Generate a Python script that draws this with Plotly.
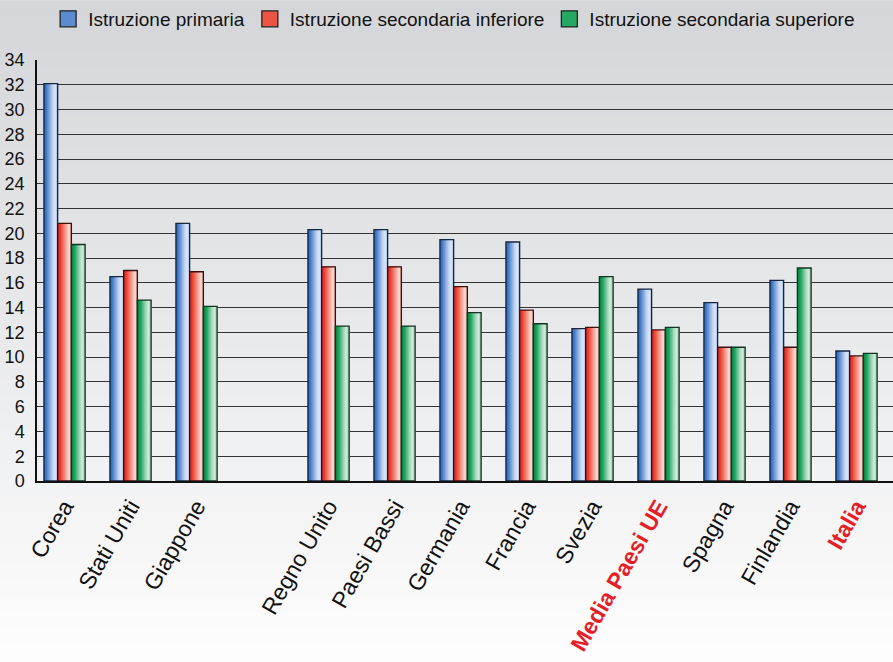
import plotly.graph_objects as go

# ---- data ----
categories = ["Corea", "Stati Uniti", "Giappone", " ", "Regno Unito", "Paesi Bassi",
              "Germania", "Francia", "Svezia", "Media Paesi UE", "Spagna",
              "Finlandia", "Italia"]
primaria = [32.1, 16.5, 20.8, None, 20.3, 20.3, 19.5, 19.3, 12.3, 15.5, 14.4, 16.2, 10.5]
sec_inferiore = [20.8, 17.0, 16.9, None, 17.3, 17.3, 15.7, 13.8, 12.4, 12.2, 10.8, 10.8, 10.1]
sec_superiore = [19.1, 14.6, 14.1, None, 12.5, 12.5, 13.6, 12.7, 16.5, 12.4, 10.8, 17.2, 10.3]
series_names = ["Istruzione primaria", "Istruzione secondaria inferiore",
                "Istruzione secondaria superiore"]
highlight = {"Media Paesi UE", "Italia"}
y_ticks = list(range(0, 35, 2))

# ---- styles ----
FONT = "Liberation Sans, Arial, sans-serif"
stops = {
    0: [(0.0, "#1f5bb0"), (0.25, "#5488cf"), (0.6, "#b9cdec"), (0.85, "#e2eaf8"), (1.0, "#a8bfe5")],
    1: [(0.0, "#d81e22"), (0.25, "#ee4a38"), (0.6, "#f3a597"), (0.85, "#f4e0dc"), (1.0, "#e8a395")],
    2: [(0.0, "#037f41"), (0.25, "#1fa460"), (0.6, "#9fd7b6"), (0.85, "#def0e5"), (1.0, "#a3d3b4")],
}
outline = ["#16263f", "#3d0e0e", "#123522"]
legend_col = ["#5b8cd0", "#ec5443", "#26a865"]


def hex2rgb(h):
    h = h.lstrip("#")
    return tuple(int(h[i:i + 2], 16) for i in (0, 2, 4))


def interp(st, t):
    for (t0, c0), (t1, c1) in zip(st[:-1], st[1:]):
        if t0 <= t <= t1:
            f = (t - t0) / (t1 - t0) if t1 > t0 else 0
            a, b = hex2rgb(c0), hex2rgb(c1)
            return "rgb(%d,%d,%d)" % tuple(round(a[k] + (b[k] - a[k]) * f) for k in range(3))
    return st[-1][1]


fig = go.Figure()

W = 0.208
base_offsets = [-1.5 * W, -0.5 * W, 0.5 * W]
N = 12
all_series = [primaria, sec_inferiore, sec_superiore]

for s, vals in enumerate(all_series):
    for i in range(N):
        t = (i + 0.5) / N
        off = base_offsets[s] + i * W / N
        fig.add_trace(go.Bar(
            x=categories, y=vals, offset=off, width=W - i * W / N,
            marker=dict(color=interp(stops[s], t), line=dict(width=0)),
            showlegend=False, hoverinfo="skip"))
    fig.add_trace(go.Bar(
        x=categories, y=vals, offset=base_offsets[s], width=W,
        marker=dict(color="rgba(0,0,0,0)", line=dict(width=1.3, color=outline[s])),
        showlegend=False, name=series_names[s]))
    fig.add_trace(go.Scatter(
        x=[None], y=[None], name=series_names[s], mode="markers",
        marker=dict(symbol="square", size=18, color=legend_col[s],
                    line=dict(width=1.3, color="#222")),
        showlegend=True))

# background gradient (paper coords)
shapes = []
top_p, bot_p = 1.14, -0.43
steps = 40
c_top, c_bot = hex2rgb("#d4d6d9"), hex2rgb("#fdfdfd")
for k in range(steps):
    y0 = top_p - (top_p - bot_p) * k / steps
    y1 = top_p - (top_p - bot_p) * (k + 1) / steps
    f = k / (steps - 1)
    col = "rgb(%d,%d,%d)" % tuple(round(c_top[j] + (c_bot[j] - c_top[j]) * f) for j in range(3))
    shapes.append(dict(type="rect", xref="paper", yref="paper", x0=-0.05, x1=1.05,
                       y0=y1 - 0.002, y1=y0 + 0.002, fillcolor=col, line=dict(width=0),
                       layer="below"))

ticktext = []
for c in categories:
    if c in highlight:
        ticktext.append('<span style="color:#e41f2a"><b>%s</b></span>' % c)
    else:
        ticktext.append(c)

fig.update_layout(
    width=893, height=662,
    margin=dict(l=37, r=0, t=59, b=181),
    paper_bgcolor="#e8e9ea", plot_bgcolor="rgba(0,0,0,0)",
    barmode="overlay",
    shapes=shapes,
    font=dict(family=FONT, color="#111"),
    legend=dict(orientation="h", x=0.013, xanchor="left", y=1.143, yanchor="top",
                font=dict(size=19, family=FONT, color="#111"), itemsizing="trace",
                bgcolor="rgba(0,0,0,0)", traceorder="normal"),
    xaxis=dict(type="category", categoryorder="array", categoryarray=categories,
               tickmode="array", tickvals=categories, ticktext=ticktext,
               tickangle=-60, tickfont=dict(size=23, family=FONT, color="#111"),
               range=[-0.417, 12.553], showgrid=False, showline=True,
               linecolor="#111", linewidth=2, ticks="", ticklabelstandoff=1),
    yaxis=dict(range=[0, 34], tickvals=y_ticks, tickfont=dict(size=18, family=FONT, color="#111"),
               showgrid=True, gridcolor="#333", gridwidth=1.4, showline=True,
               linecolor="#111", linewidth=1.5, ticks="", ticklabelstandoff=7,
               zeroline=False),
    hovermode=False,
)

fig.write_html("out.html")
